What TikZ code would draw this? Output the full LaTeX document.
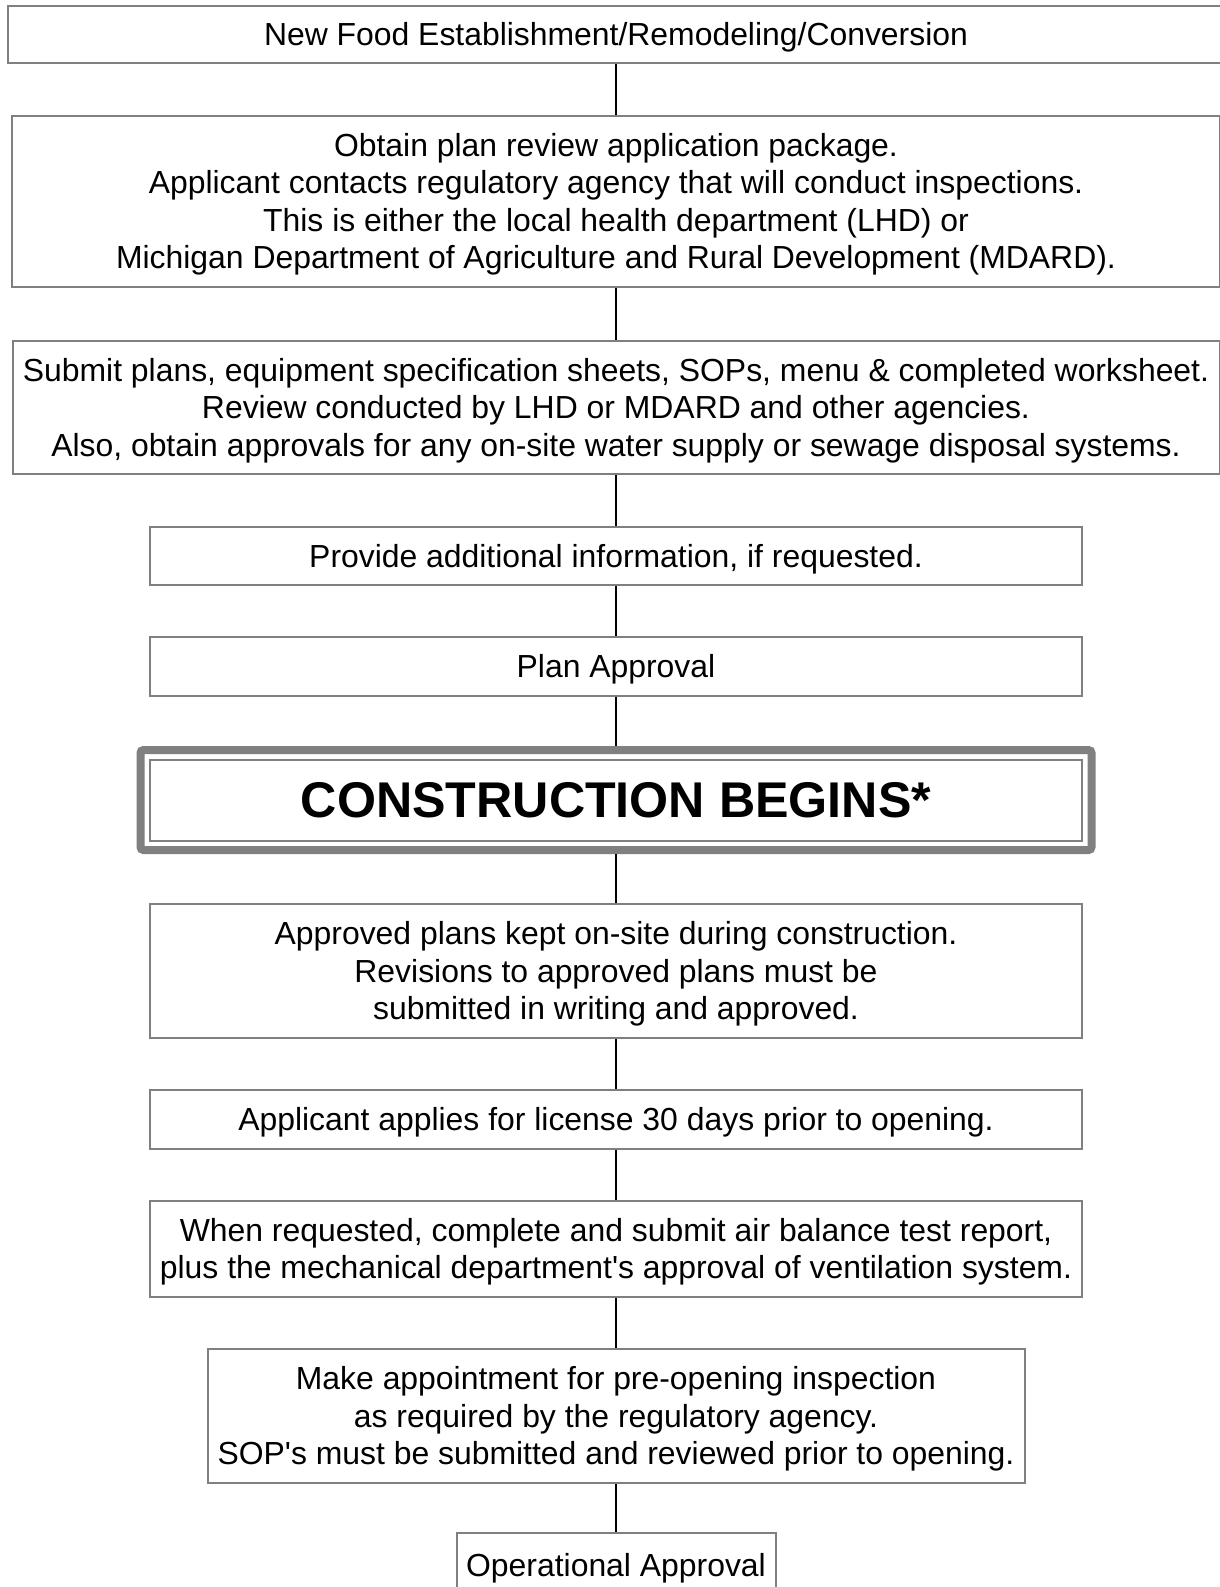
\documentclass[tikz,border=0pt]{standalone}
\usepackage{fontspec}
\setmainfont{Liberation Sans}
\usetikzlibrary{fit}
\definecolor{boxgray}{RGB}{128,128,128}
\newcommand{\boxstrut}{\rule[-0.212em]{0pt}{1.117em}}

\begin{document}
\begin{tikzpicture}[x=1pt,y=-1pt,
    stepbox/.style={draw=boxgray, line width=2pt, inner sep=0pt, align=center,
      font=\fontsize{31.9}{37.5}\selectfont,
      execute at begin node=\boxstrut, execute at end node=\boxstrut},
    bigframe/.style={draw=boxgray, line width=8pt, rounded corners=3pt, inner sep=8.5pt},
    link/.style={draw=black, line width=2pt}]
  \useasboundingbox (0,0) rectangle (1220,1587);
  \clip (0,0) rectangle (1220,1587);
  \fill [white] (0,0) rectangle (1220,1587);

  % steps, top to bottom
  \node [stepbox, minimum width=1216pt, minimum height=57pt] (start) at (616,34.5)
    {New Food Establishment/Remodeling/Conversion};
  \node [stepbox, minimum width=1208pt, minimum height=171pt] (package) at (616,201.5)
    {\boxstrut Obtain plan review application package.\\
     Applicant contacts regulatory agency that will conduct inspections.\\
     This is either the local health department (LHD) or\\
     Michigan Department of Agriculture and Rural Development (MDARD).};
  \node [stepbox, minimum width=1207pt, minimum height=133pt] (submit) at (616,407.5)
    {\boxstrut Submit plans, equipment specification sheets, SOPs, menu \& completed worksheet.\\
     Review conducted by LHD or MDARD and other agencies.\\
     Also, obtain approvals for any on-site water supply or sewage disposal systems.};
  \node [stepbox, minimum width=932pt, minimum height=58pt] (info) at (616,556)
    {Provide additional information, if requested.};
  \node [stepbox, minimum width=932pt, minimum height=59pt] (plan) at (616,666.5)
    {Plan Approval};
  \node [stepbox, minimum width=932pt, minimum height=81pt,
    execute at begin node={}, execute at end node={},
    font=\fontsize{50.2}{56}\selectfont\bfseries] (cons) at (616,800)
    {CONSTRUCTION BEGINS*};
  \node [bigframe, fit=(cons)] (consframe) {};
  \node [stepbox, minimum width=932pt, minimum height=134pt] (onsite) at (616,971)
    {\boxstrut Approved plans kept on-site during construction.\\
     Revisions to approved plans must be\\
     submitted in writing and approved.};
  \node [stepbox, minimum width=932pt, minimum height=59pt] (license) at (616,1119.5)
    {Applicant applies for license 30 days prior to opening.};
  \node [stepbox, minimum width=932pt, minimum height=96pt] (air) at (616,1249)
    {\boxstrut When requested, complete and submit air balance test report,\\
     plus the mechanical department\textquotesingle s approval of ventilation system.};
  \node [stepbox, minimum width=817pt, minimum height=134pt] (appoint) at (616,1416)
    {\boxstrut Make appointment for pre-opening inspection\\
     as required by the regulatory agency.\\
     SOP\textquotesingle s must be submitted and reviewed prior to opening.};
  \node [stepbox, minimum width=319pt, minimum height=64pt] (oper) at (616,1565)
    {Operational Approval};

  % connectors
  \draw [link] (start) -- (package);
  \draw [link] (package) -- (submit);
  \draw [link] (submit) -- (info);
  \draw [link] (info) -- (plan);
  \draw [link] (plan) -- (consframe);
  \draw [link] (consframe) -- (onsite);
  \draw [link] (onsite) -- (license);
  \draw [link] (license) -- (air);
  \draw [link] (air) -- (appoint);
  \draw [link] (appoint) -- (oper);
\end{tikzpicture}
\end{document}
